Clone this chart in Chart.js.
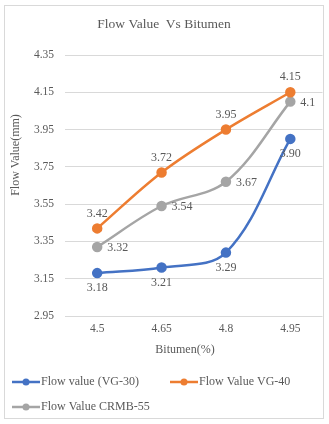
<!DOCTYPE html>
<html>
<head>
<meta charset="utf-8">
<script src="https://cdn.jsdelivr.net/npm/chart.js@4.4.1/dist/chart.umd.min.js"></script>
<style>
  html, body { margin: 0; padding: 0; background: #ffffff; }
  #wrap { position: relative; width: 329px; height: 424px; }
  #frame { position: absolute; left: 4px; top: 5px; width: 320px; height: 414px; border: 1px solid #d9d9d9; box-sizing: border-box; pointer-events: none; }
  canvas { position: absolute; left: 0; top: 0; }
</style>
</head>
<body>
<div id="wrap">
  <canvas id="c" width="329" height="424"></canvas>
  <div id="frame"></div>
</div>
<script>
const chartTitle = 'Flow Value  Vs Bitumen';
const xTitle = 'Bitumen(%)';
const yTitle = 'Flow Value(mm)';
const categories = ['4.5', '4.65', '4.8', '4.95'];
const seriesNames = ['Flow value (VG-30)', 'Flow Value VG-40', 'Flow Value CRMB-55'];
const flowVG30 = [3.18, 3.21, 3.29, 3.90];
const flowVG40 = [3.42, 3.72, 3.95, 4.15];
const flowCRMB55 = [3.32, 3.54, 3.67, 4.1];
const yMin = 2.95, yMax = 4.35, yStep = 0.2;

const colors = ['#4472C4', '#ED7D31', '#A5A5A5'];
const labelPos = ['below', 'above', 'right'];
const labelFmt = [v => v.toFixed(2), v => String(v), v => String(v)];
const FONT = "'Liberation Serif', 'Times New Roman', serif";
const TXT = '#595959';

function ds(i, data) {
  return {
    label: seriesNames[i], data: data,
    borderColor: colors[i], backgroundColor: colors[i],
    borderWidth: 2.5, pointRadius: 4, pointHoverRadius: 4,
    pointBackgroundColor: colors[i], pointBorderColor: colors[i],
    tension: 0.35, fill: false
  };
}

const decor = {
  id: 'decor',
  afterDraw(chart) {
    const ctx = chart.ctx;
    ctx.save();
    ctx.fillStyle = TXT;
    ctx.textAlign = 'center';
    ctx.textBaseline = 'middle';
    ctx.font = '13.5px ' + FONT;
    ctx.fillText(chartTitle, 164, 24);
    ctx.font = '12px ' + FONT;
    ctx.fillText(xTitle, 185, 350);
    ctx.save();
    ctx.translate(16, 155);
    ctx.rotate(-Math.PI / 2);
    ctx.fillText(yTitle, 0, 0);
    ctx.restore();

    // data labels
    ctx.font = '12px ' + FONT;
    chart.data.datasets.forEach((d, i) => {
      const meta = chart.getDatasetMeta(i);
      meta.data.forEach((pt, j) => {
        const t = labelFmt[i](d.data[j]);
        if (labelPos[i] === 'below') {
          ctx.textAlign = 'center';
          ctx.fillText(t, pt.x, pt.y + 15);
        } else if (labelPos[i] === 'above') {
          ctx.textAlign = 'center';
          ctx.fillText(t, pt.x, pt.y - 15);
        } else {
          ctx.textAlign = 'left';
          ctx.fillText(t, pt.x + 10, pt.y + 1);
        }
      });
    });

    // legend
    const items = [[12, 382], [170, 382], [12, 407]];
    chart.data.datasets.forEach((d, i) => {
      const [lx, ly] = items[i];
      ctx.strokeStyle = d.borderColor;
      ctx.lineWidth = 2.5;
      ctx.beginPath();
      ctx.moveTo(lx, ly);
      ctx.lineTo(lx + 28, ly);
      ctx.stroke();
      ctx.fillStyle = d.borderColor;
      ctx.beginPath();
      ctx.arc(lx + 14, ly, 3.5, 0, Math.PI * 2);
      ctx.fill();
      ctx.fillStyle = TXT;
      ctx.textAlign = 'left';
      ctx.fillText(d.label, lx + 29, ly);
    });
    ctx.restore();
  }
};

new Chart(document.getElementById('c'), {
  type: 'line',
  data: {
    labels: categories,
    datasets: [ds(0, flowVG30), ds(1, flowVG40), ds(2, flowCRMB55)]
  },
  options: {
    responsive: false,
    animation: false,
    devicePixelRatio: 1,
    layout: { padding: { top: 55, left: 4, right: 4, bottom: 88 } },
    plugins: { legend: { display: false }, title: { display: false }, tooltip: { enabled: false } },
    scales: {
      x: {
        offset: true,
        grid: { display: false, drawTicks: false },
        border: { display: false },
        ticks: { color: TXT, font: { family: FONT, size: 11.5 }, padding: 6, maxRotation: 0 },
        afterFit(s) { s.height = 20; }
      },
      y: {
        min: yMin, max: yMax,
        grid: { color: '#d9d9d9', lineWidth: 1, drawTicks: false },
        border: { display: false },
        ticks: { stepSize: yStep, color: TXT, font: { family: FONT, size: 11.5 }, padding: 11,
                 callback: v => Number(v).toFixed(2) },
        afterFit(s) { s.width = 61; }
      }
    }
  },
  plugins: [decor]
});
</script>
</body>
</html>
